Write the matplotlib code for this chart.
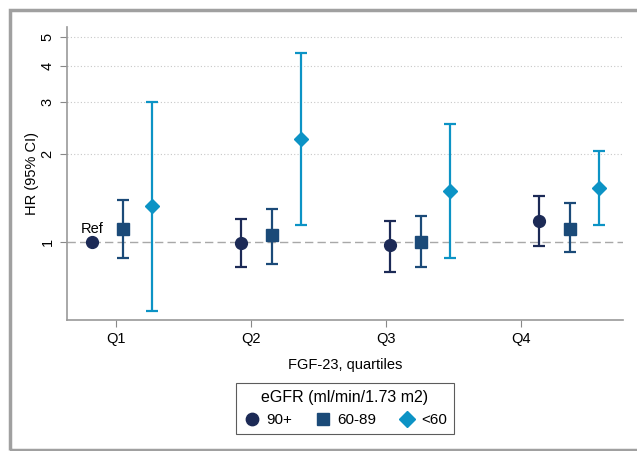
import numpy as np
import matplotlib.pyplot as plt
from matplotlib.patches import Rectangle

plt.rcParams['font.family'] = ['Liberation Sans', 'DejaVu Sans']

# Data
quartiles = ["Q1", "Q2", "Q3", "Q4"]
groups = ["90+", "60-89", "<60"]

hr = {
    "90+":   [1.00, 0.99, 0.977, 1.18],
    "60-89": [1.107, 1.056, 1.00, 1.11],
    "<60":   [1.33, 2.25, 1.49, 1.53],
}
lo = {
    "90+":   [np.nan, 0.824, 0.79, 0.971],
    "60-89": [0.884, 0.841, 0.822, 0.922],
    "<60":   [0.582, 1.143, 0.882, 1.143],
}
hi = {
    "90+":   [np.nan, 1.20, 1.176, 1.44],
    "60-89": [1.39, 1.30, 1.23, 1.355],
    "<60":   [3.01, 4.42, 2.52, 2.05],
}
yticks = [1, 2, 3, 4, 5]

colors = {"90+": "#1c2a56", "60-89": "#1b4a78", "<60": "#0c93c5"}
markers = {"90+": "o", "60-89": "s", "<60": "D"}
msizes = {"90+": 8.5, "60-89": 8.5, "<60": 7.5}

# markers sit a bit off the quartile ticks, like in the original
group_start = 0.822
group_step = 1.104
offsets = {"90+": 0.0, "60-89": 0.23, "<60": 0.445}

fig = plt.figure(figsize=(6.37, 4.51), dpi=100)
ax = fig.add_axes([0.105, 0.2905, 0.873, 0.6495])

for g in groups:
    x = group_start + group_step * np.arange(4) + offsets[g]
    y = np.array(hr[g])
    err = np.vstack([y - np.array(lo[g]), np.array(hi[g]) - y])
    ax.errorbar(x, y, yerr=err, fmt="none", ecolor=colors[g],
                elinewidth=1.6, capsize=4, capthick=1.6, zorder=3)
    ax.plot(x, y, linestyle="none", marker=markers[g], color=colors[g],
            markersize=msizes[g], label=g, zorder=4)

ax.axhline(1, color="#a8a8a8", linestyle=(0, (6, 3)), linewidth=1.0, zorder=1)
for v in yticks[1:]:
    ax.axhline(v, color="#c8c8c8", linestyle=(0, (1, 2)), linewidth=0.8, zorder=1)

ax.text(group_start, 1.045, "Ref", ha="center", va="bottom", fontsize=10.5)

ax.set_yscale("log")
ax.set_ylim(0.542, 5.41)
ax.set_xlim(0.637, 4.756)
ax.set_yticks(yticks)
ax.set_yticklabels([str(v) for v in yticks], rotation=90, va="center")
ax.minorticks_off()
ax.set_xticks([1, 2, 3, 4])
ax.set_xticklabels(quartiles)
ax.tick_params(axis="both", labelsize=10.5, length=5, color="#888888", pad=4)

for s in ["top", "right"]:
    ax.spines[s].set_visible(False)
for s in ["left", "bottom"]:
    ax.spines[s].set_color("#999999")
    ax.spines[s].set_linewidth(1.2)

ax.set_xlabel("FGF-23, quartiles", fontsize=10.5, labelpad=8)
ax.set_ylabel("HR (95% CI)", fontsize=10.5, labelpad=1)

leg = ax.legend(title="eGFR (ml/min/1.73 m2)", ncol=3, loc="upper center",
                bbox_to_anchor=(0.5, -0.19), fontsize=11, title_fontsize=11.5,
                frameon=True, fancybox=False, edgecolor="#333333",
                handletextpad=0.35, columnspacing=1.4, handlelength=1.2,
                borderpad=0.45, labelspacing=0.3, markerscale=1.05)
leg.get_frame().set_linewidth(0.8)
leg._legend_box.sep = 6

# outer grey frame (open on the right)
fig.patches.append(Rectangle((9.5 / 637, 1.5 / 451), 1.2, 440 / 451,
                             transform=fig.transFigure, fill=False,
                             edgecolor="#a0a0a0", linewidth=2.5))

fig.savefig("out.png", dpi=100)
